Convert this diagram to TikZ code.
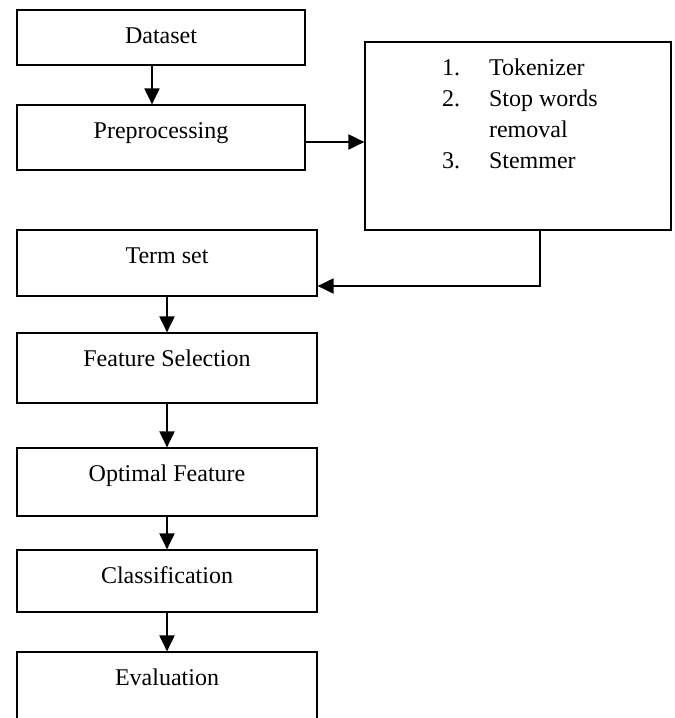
\documentclass[tikz,border=0pt]{standalone}
\usepackage{fontspec}
\setmainfont{Liberation Serif}
\usetikzlibrary{arrows.meta}

\begin{document}
\begin{tikzpicture}[x=0.5pt,y=-0.5pt,
	box/.style={draw,line width=0.6pt,minimum width=#1,inner sep=0pt},
	txt/.style={font=\fontsize{12}{15.5}\selectfont},
	head/.style={label={[txt,anchor=base,yshift=-17pt]north:#1}},
	flow/.style={line width=1pt,-{Triangle[length=8pt,width=7.5pt]}}]
\useasboundingbox (0,0) rectangle (675,718);
\clip (0,0) rectangle (675,718);
\node[box=144pt,minimum height=27.5pt,head=Dataset] (ds) at (161,37.5) {};
\node[box=144pt,minimum height=32.5pt,head=Preprocessing] (pre) at (161,137.5) {};
\node[box=153pt,minimum height=94pt] (steps) at (518,136) {};
\node[txt,anchor=base west] (list) at (435,75.5) {\begin{tabular}[t]{@{}p{23.5pt}@{}l@{}}
	1.&Tokenizer\\
	2.&Stop words\\
	  &removal\\
	3.&Stemmer
\end{tabular}};
\node[box=150pt,minimum height=33pt,head=Term set] (term) at (167,263) {};
\node[box=150pt,minimum height=35pt,head=Feature Selection] (fsel) at (167,368) {};
\node[box=150pt,minimum height=34pt,head=Optimal Feature] (opt) at (167,482) {};
\node[box=150pt,minimum height=31pt,head=Classification] (cls) at (167,581) {};
\node[box=150pt,minimum height=44pt,head=Evaluation] (ev) at (167,696) {};
\coordinate (bend) at (540,286);
\draw[flow] ([xshift=-4.5pt]ds.south) -- ([xshift=-4.5pt]pre.north);
\draw[flow] ([yshift=-2.25pt]pre.east) -- ([yshift=-2.25pt]pre.east -| steps.west);
% povratek na term set
\draw[flow] (steps.south -| bend) -- (bend) -- (bend -| term.east);
\draw[flow] (term.south) -- (fsel.north);
\draw[flow] (fsel.south) -- (opt.north);
\draw[flow] (opt.south) -- (cls.north);
\draw[flow] (cls.south) -- (ev.north);
\end{tikzpicture}
\end{document}
